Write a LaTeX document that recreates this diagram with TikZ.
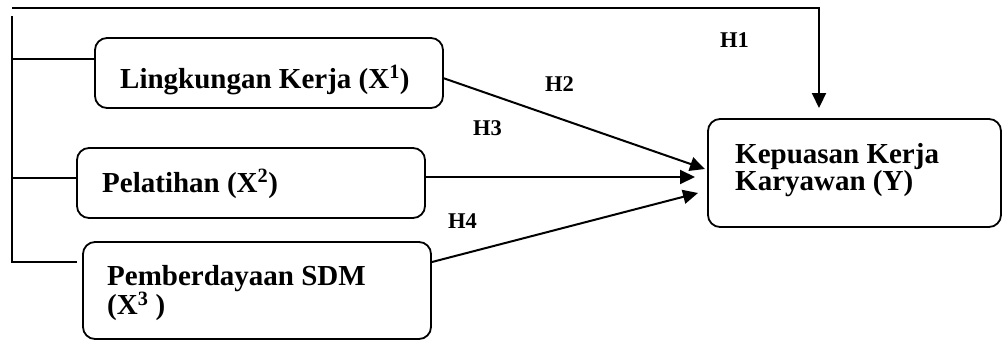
\documentclass[tikz,border=0pt]{standalone}
\usepackage{fontspec}
\setmainfont{Liberation Serif}
\usetikzlibrary{arrows.meta}
\tikzset{
  box/.style={draw, line width=1.8pt, rounded corners=12pt, inner sep=0pt},
  txt/.style={anchor=base west, inner sep=0pt, font=\fontsize{29}{25}\selectfont\bfseries},
  hlab/.style={anchor=base west, inner sep=0pt, font=\fontsize{22.5}{26}\selectfont\bfseries},
  conn/.style={line width=2pt},
  arr/.style={line width=2pt, -{Triangle[length=15pt,width=14pt]}}
}
\begin{document}
\begin{tikzpicture}[x=1pt,y=-1pt]
\useasboundingbox (0,0) rectangle (1002,340);
% boxes
\node[box, minimum width=348pt, minimum height=70pt] (b1) at (269,73) {};
\node[box, minimum width=348pt, minimum height=70pt] (b2) at (251,183) {};
\node[box, minimum width=348pt, minimum height=97pt] (b3) at (257,290.5) {};
\node[box, minimum width=293pt, minimum height=108pt] (by) at (854.5,173) {};
% texts
\node[txt] (t1) at (120,88) {Lingkungan Kerja (X\textsuperscript{1})};
\node[txt] (t2) at (102,192) {Pelatihan (X\textsuperscript{2})};
\node[txt] (t3) at (107,285) {\parbox[t]{300pt}{\fontsize{29}{27}\selectfont\bfseries Pemberdayaan SDM\\(X\textsuperscript{3} )}};
\node[txt] (ty) at (735,163) {\parbox[t]{260pt}{\fontsize{29}{25}\selectfont\bfseries Kepuasan Kerja\\Karyawan (Y)}};
% labels
\node[hlab] (h1) at (720,47) {H1};
\node[hlab] (h2) at (545,91) {H2};
\node[hlab] (h3) at (473,135) {H3};
\node[hlab] (h4) at (448,228) {H4};
% coordinates
\coordinate (tl) at (12,8);
\coordinate (tr) at (819,8);
\coordinate (h1e) at (819,108);
\coordinate (lt) at (12,16);
\coordinate (l1) at (12,59);
\coordinate (l2) at (12,178);
\coordinate (l3) at (12,262);
\coordinate (l3e) at (77,262);
\coordinate (s2) at (443,78);
\coordinate (e2) at (705,169);
\coordinate (s3) at (425,177);
\coordinate (e3) at (695,177);
\coordinate (s4) at (432,262);
\coordinate (e4) at (698,193);
% connectors
\draw[arr, line width=2.2pt] (tl) -- (tr) -- (h1e);
\draw[conn, line width=2.2pt] (lt) -- (l3) -- (l3e);
\draw[conn] (l1) -- (l1 -| b1.west);
\draw[conn] (l2) -- (l2 -| b2.west);
\draw[arr] (s2) -- (e2);
\draw[arr] (s3) -- (e3);
\draw[arr] (s4) -- (e4);
\end{tikzpicture}
\end{document}
